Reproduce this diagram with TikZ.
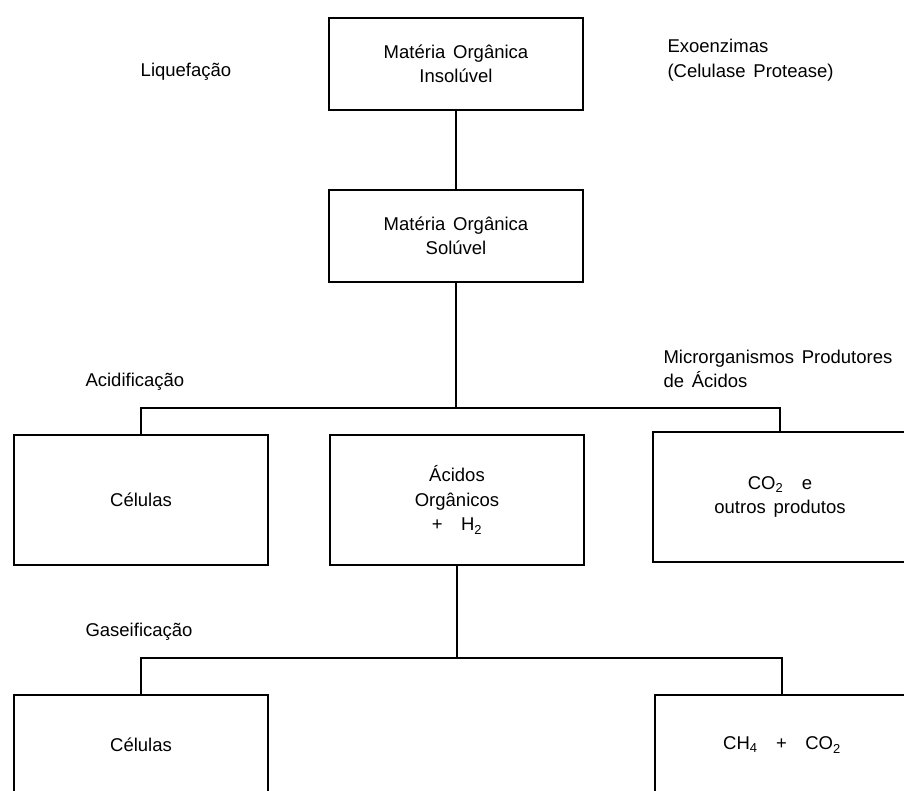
\documentclass[tikz,border=0pt]{standalone}
\usepackage{fontspec}
\setmainfont{Liberation Sans}
\usetikzlibrary{positioning}
\newcommand{\labelfont}{\fontsize{18.5}{24.5}\selectfont\spaceskip 0.42em\relax}

\begin{document}
\begin{tikzpicture}[x=1pt, y=1pt,
    box/.style={draw, line width=2.4pt, minimum width=254pt, align=center, font=\labelfont},
    stage/.style={align=left, font=\labelfont},
    link/.style={line width=2pt}]
    \useasboundingbox (0,0) rectangle (904,791);

    % Boxes
    \node (insol) [box, minimum height=92pt] at (456,727) {Matéria Orgânica\\Insolúvel};
    \node (sol) [box, minimum height=92pt] at (456,555) {Matéria Orgânica\\Solúvel};
    \node (cel1) [box, minimum height=130pt] at (141,291) {Células};
    \node (acidos) [box, minimum height=130pt] at (457,291) {Ácidos\\Orgânicos\\+\quad H\textsubscript{2}\hspace{14pt}};
    \node (co2) [box, minimum height=130pt] at (780,294) {CO\textsubscript{2}\quad e\hspace{40pt}\\outros produtos};
    \node (cel2) [box, minimum height=100pt] at (141,46) {Células};
    \node (ch4) [box, minimum height=100pt] at (782,46) {CH\textsubscript{4}\quad+\quad CO\textsubscript{2}};

    % Stage names
    \node (liq) [stage] at (186,719) {Liquefação};
    \node (acid) [stage, anchor=west] at (82,409) {Acidificação};
    \node (gas) [stage, anchor=west] at (82,159) {Gaseificação};
    \node (exo) [stage, anchor=west] at (664,731) {Exoenzimas\\(Celulase Protease)};
    \node (micro) [stage, anchor=west] at (660,422) {Microrganismos Produtores\\de Ácidos};

    % Branch points
    \coordinate (split1) at (456,383);
    \coordinate (split2) at (457,133);

    % Lines
    \draw [link] (insol) -- (sol);
    \draw [link] (sol) -- (split1);
    \draw [link] (cel1.north) |- (split1) -| (co2.north);
    \draw [link] (acidos) -- (split2);
    \draw [link] (cel2.north) |- (split2) -| (ch4.north);
\end{tikzpicture}
\end{document}
